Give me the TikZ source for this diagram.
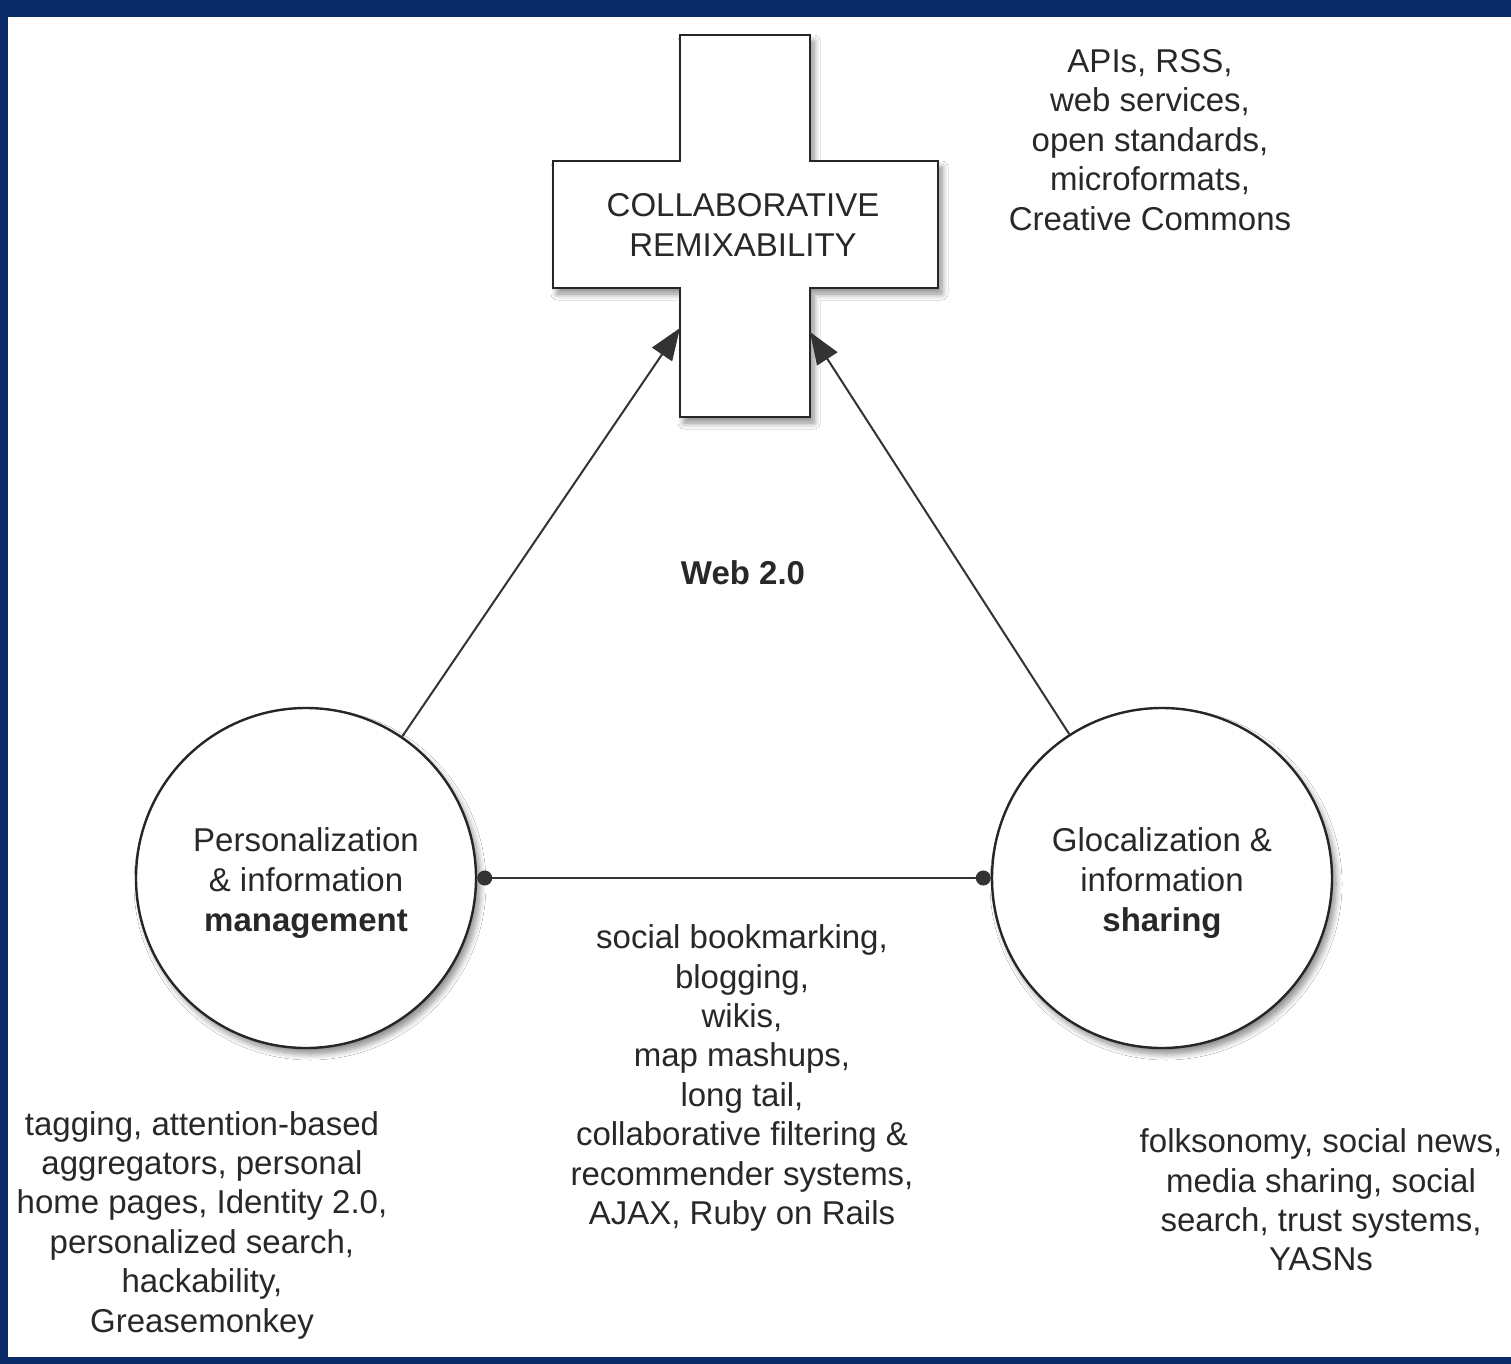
\documentclass[tikz,border=0pt]{standalone}
\usepackage{fontspec}
\setmainfont{Liberation Sans}
\usetikzlibrary{arrows.meta,shadows.blur}
\definecolor{bgblue}{RGB}{10,42,104}
\definecolor{txt}{RGB}{40,40,40}
\begin{document}
\begin{tikzpicture}[x=0.5pt,y=-0.5pt,
  lbl/.style={align=center,text=txt,font=\fontsize{16.5}{19.7}\selectfont,inner sep=0pt},
  softshadow/.style={blur shadow={shadow xshift=2pt,shadow yshift=-3pt,shadow blur steps=8,shadow opacity=45,shadow blur radius=3pt}},
  circ/.style={circle,draw=black!85,line width=1.2pt,fill=white,minimum size=170pt,inner sep=0pt,softshadow,
    align=center,text=txt,font=\fontsize{16.5}{20}\selectfont},
  conn/.style={draw=black!80,line width=1pt},
  crossshape/.style={draw=black!85,line width=1.2pt,fill=white,softshadow},
]
% background
\useasboundingbox (0,0) rectangle (1511,1364);
\fill[bgblue] (0,0) rectangle (1511,1364);
\fill[white] (8,17) rectangle (1511,1357);

% cross
\path[crossshape] (680,35) -- (810,35) -- (810,161) -- (938,161) -- (938,288) -- (810,288)
  -- (810,417) -- (680,417) -- (680,288) -- (553,288) -- (553,161) -- (680,161) -- cycle;
\node[lbl] (cr) at (743,225) {COLLABORATIVE\\REMIXABILITY};
\coordinate (tipL) at (680,328);
\coordinate (tipR) at (810,332);

% circles
\node[circ] (pm) at (306,878) {\rule{0pt}{17pt}Personalization\\\& information\\\textbf{management}};
\node[circ] (gs) at (1162,878) {\rule{0pt}{17pt}Glocalization \&\\information\\\textbf{sharing}};

% connectors
\draw[conn,-{Triangle[length=16pt,width=12pt]}] (pm) -- (tipL);
\draw[conn,-{Triangle[length=16pt,width=12pt]}] (gs) -- (tipR);
\draw[conn,{Circle[length=7.5pt]}-{Circle[length=7.5pt]}] (pm.east) -- (gs.west);

% labels
\node[lbl,font=\fontsize{16.5}{19.7}\selectfont\bfseries] (web) at (743,573) {Web 2.0};
\node[lbl] (api) at (1150,140) {APIs, RSS,\\web services,\\open standards,\\microformats,\\Creative Commons};
\node[lbl] (mid) at (742,1078) {social bookmarking,\\blogging,\\wikis,\\map mashups,\\long tail,\\collaborative filtering \&\\recommender systems,\\AJAX, Ruby on Rails};
\node[lbl] (bl) at (202,1225) {tagging, attention-based\\aggregators, personal\\home pages, Identity 2.0,\\personalized search,\\hackability,\\Greasemonkey};
\node[lbl] (br) at (1321,1200) {folksonomy, social news,\\media sharing, social\\search, trust systems,\\YASNs};
\end{tikzpicture}
\end{document}
